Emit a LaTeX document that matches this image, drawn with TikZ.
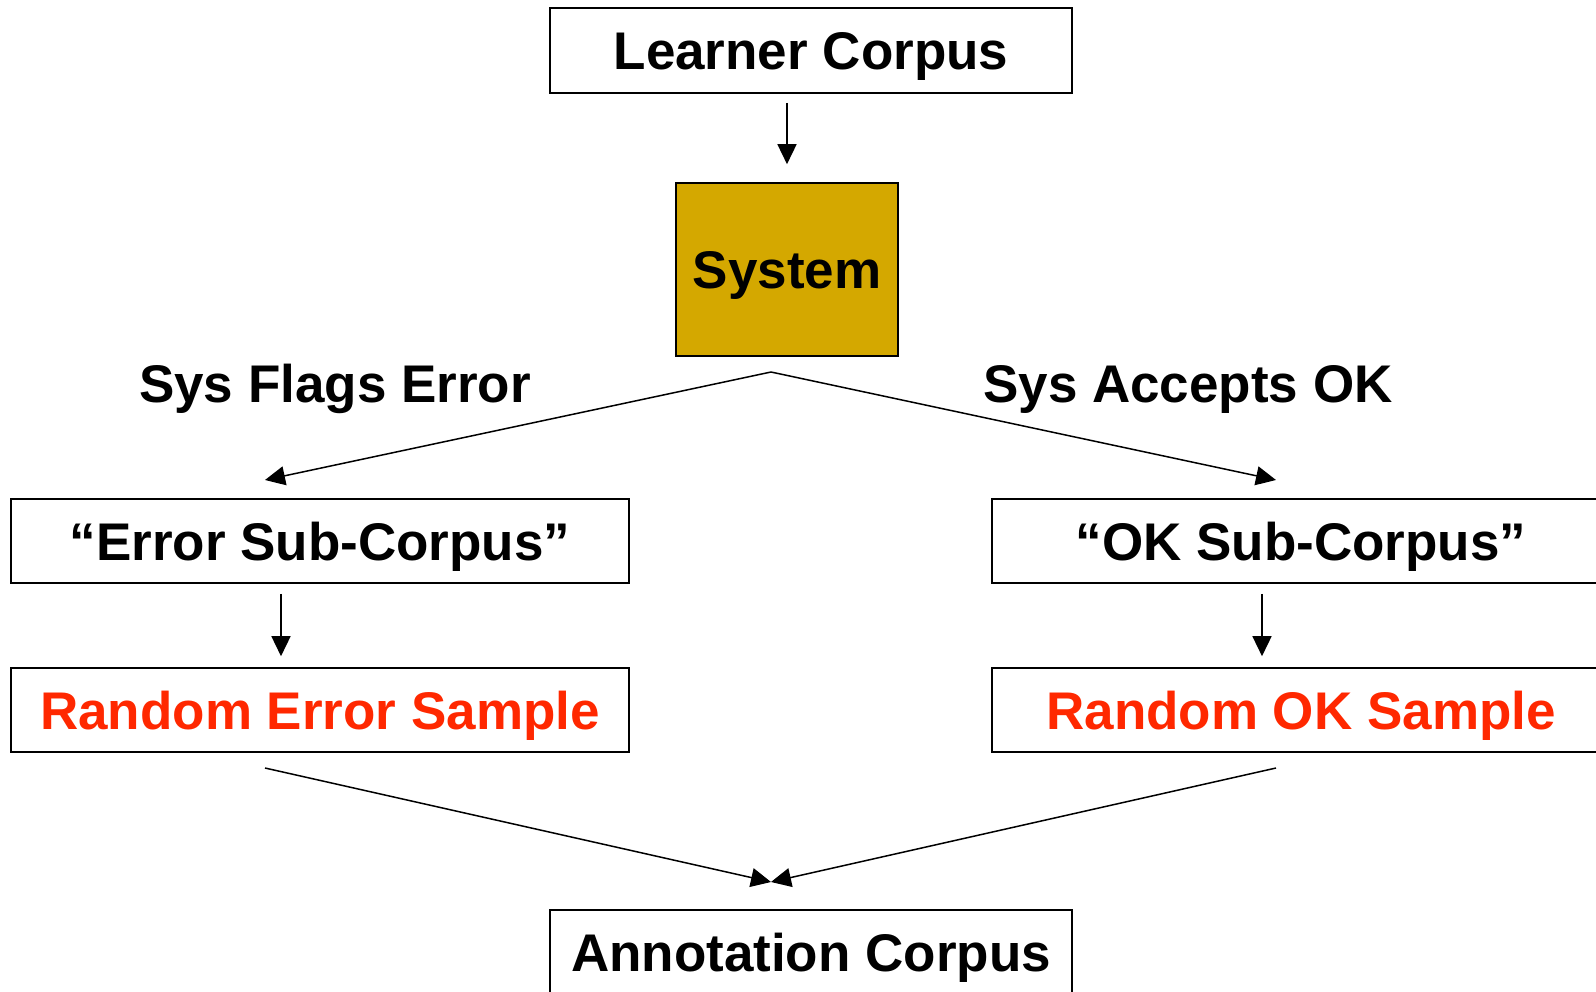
\documentclass[tikz,border=0pt]{standalone}
\usepackage{fontspec}
\setmainfont{Liberation Sans}
\usetikzlibrary{arrows.meta}
\definecolor{gold}{RGB}{212,168,0}
\definecolor{redtxt}{RGB}{255,40,0}
\begin{document}
\begin{tikzpicture}[x=1pt,y=-1pt,
  txt/.style={inner sep=0pt,text height=38pt,text depth=0pt,font=\fontsize{53}{60}\selectfont\bfseries},
  box/.style={txt,draw,line width=1.6pt,rectangle},
  wide/.style={box,minimum width=618pt,minimum height=84pt},
  mid/.style={box,minimum width=522pt,minimum height=85pt},
  arr/.style={line width=1.5pt,-{Triangle[length=20pt,width=19pt]}}]
\useasboundingbox (0,0) rectangle (1596,991);
\clip (0,0) rectangle (1596,991);
\node[mid] (LC) at (811,50.5) {Learner Corpus};
\node[box,fill=gold,minimum width=222pt,minimum height=173pt] (S) at (787,269.5) {System};
\node[txt] (LF) at (335,383) {Sys Flags Error};
\node[txt] (LA) at (1188,383) {Sys Accepts OK};
\node[wide] (ES) at (320,541) {“Error Sub-Corpus”};
\node[wide] (OS) at (1301,541) {“OK Sub-Corpus”};
\node[wide,text=redtxt] (RE) at (320,710) {Random Error Sample};
\node[wide,text=redtxt] (RO) at (1301,710) {Random OK Sample};
\node[mid] (AC) at (811,952.5) {Annotation Corpus};
\coordinate (split) at (771,372);
\coordinate (esin) at (265,480);
\coordinate (osin) at (1276,480);
\coordinate (reout) at (265,768);
\coordinate (roout) at (1276,768);
\coordinate (join) at (771,882);
\draw[arr] ([yshift=-9pt]LC.south -| S.north) -- ([yshift=18pt]S.north);
\draw[arr] (split) -- (esin);
\draw[arr] (split) -- (osin);
\draw[arr] ([xshift=-39pt,yshift=-10pt]ES.south) -- ([xshift=-39pt,yshift=11pt]RE.north);
\draw[arr] ([xshift=-39pt,yshift=-10pt]OS.south) -- ([xshift=-39pt,yshift=11pt]RO.north);
\draw[arr] (reout) -- (join);
\draw[arr] (roout) -- (join);
\end{tikzpicture}
\end{document}
